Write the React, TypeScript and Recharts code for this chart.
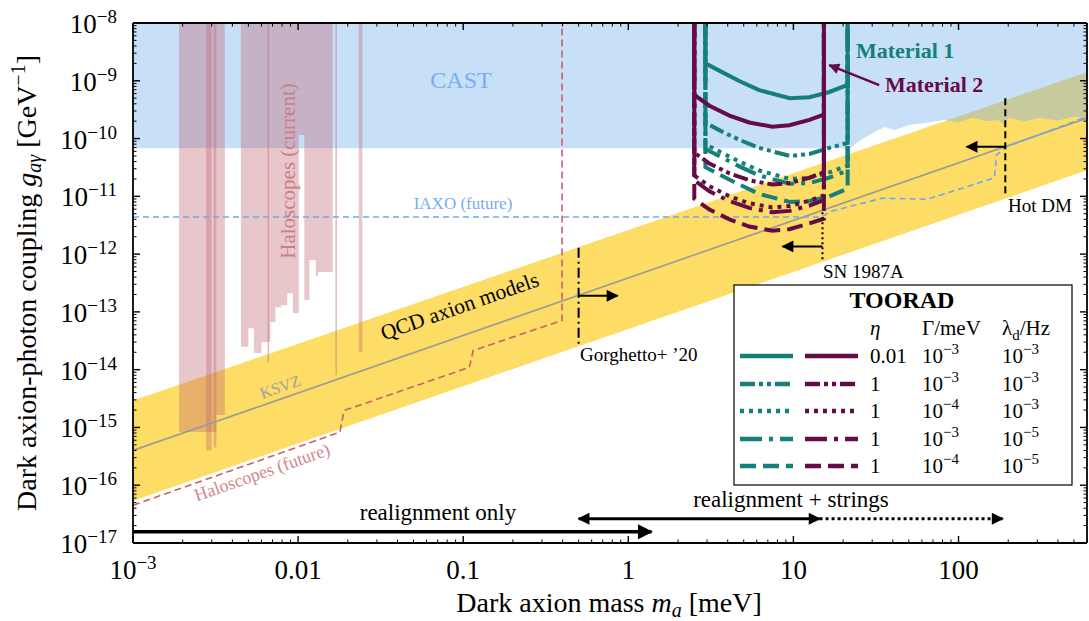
import React from "react";
import { ComposedChart, XAxis, YAxis, Area, Line } from "recharts";

const FONT = "'Liberation Serif', 'Times New Roman', serif";
const TEAL = "#15807a";
const PURPLE = "#650b45";
const TOP = 1e-8;

const X_DOMAIN = [1e-3, 600];
const Y_DOMAIN = [1e-17, 1e-8];

// tick labels
const X_MAJOR = [1e-3, 0.01, 0.1, 1, 10, 100];
const X_LABELS = ["10^−3", "0.01", "0.1", "1", "10", "100"];
const Y_MAJOR = [1e-17, 1e-16, 1e-15, 1e-14, 1e-13, 1e-12, 1e-11, 1e-10, 1e-9, 1e-8];
const Y_LABELS = ["10^−17", "10^−16", "10^−15", "10^−14", "10^−13", "10^−12", "10^−11", "10^−10", "10^−9", "10^−8"];

// QCD axion band and KSVZ line (mass meV -> coupling GeV^-1)
const BAND_MASS = [1e-3, 600];
const BAND_LOW = [5.4e-17, 2.83e-11];
const BAND_HIGH = [2.92e-15, 1.41e-9];
const KSVZ = [4.0e-16, 2.26e-10];

// CAST excluded region: [mass, lower edge]
const CAST_EDGE = [
  [1e-3, 6.8e-11], [21.9, 6.8e-11], [25.8, 9.5e-11], [31, 1.3e-10], [35.6, 1.59e-10],
  [41, 1.41e-10], [50.5, 1.72e-10], [62, 1.86e-10], [82, 2.1e-10], [100, 1.9e-10],
  [120, 2.3e-10], [150, 2.0e-10], [177, 2.1e-10], [190, 1.6e-10], [200, 2.3e-10],
  [250, 2.0e-10], [310, 2.27e-10], [400, 2.05e-10], [500, 2.4e-10], [600, 2.2e-10],
];

// Haloscopes (current): stepped lower edges
const HALO_A = [[1.9e-3, 8.3e-16], [3.2e-3, 1.65e-15], [3.6e-3, 1.65e-15]];
const HALO_A_CORE1 = [[2.77e-3, 4.0e-16], [2.99e-3, 4.0e-16]];
const HALO_A_CORE2 = [[3.08e-3, 4.5e-16], [3.2e-3, 4.5e-16]];
const HALO_B = [
  [4.5e-3, 2.5e-14], [5.0e-3, 5.2e-14], [5.4e-3, 1.95e-14], [6.0e-3, 3.0e-14], [6.8e-3, 6.7e-14],
  [7.3e-3, 1.2e-13], [7.9e-3, 1.3e-13], [8.6e-3, 2.1e-13], [9.3e-3, 9.6e-14], [0.0101, 1.15e-10],
  [0.0109, 1.6e-13], [0.0117, 7.9e-13], [0.0128, 4.2e-13], [0.0132, 4.9e-13], [0.0162, 4.9e-13],
];
const HALO_C = [[0.0233, 2.0e-14], [0.0245, 2.0e-14]];
const HALO_THIN = [[6.6e-3, 1.35e-14], [0.017, 8.1e-15]];

// Haloscopes (future) and IAXO (future)
const HALO_FUTURE = [
  [1e-3, 4.5e-17], [0.0179, 8.3e-16], [0.019, 1.96e-15], [0.109, 1.1e-14],
  [0.115, 2.15e-14], [0.397, 7.1e-14], [0.397, 1e-8],
];
const IAXO = [
  [1e-3, 4.4e-12], [15.0, 4.4e-12], [16.5, 5.4e-12], [34.6, 9.3e-12], [64.8, 8.9e-12],
  [165, 2.09e-11], [170, 5.2e-11], [195, 7.2e-11], [600, 2.37e-10],
];

// TOORAD sensitivity curves
const M1_MASS = [2.93, 3.55, 4.7, 6.2, 9.5, 12.5, 16.5, 21.3];
const M2_MASS = [2.51, 3.1, 4.1, 5.4, 7.45, 9.45, 12.5, 15.3];
const M1_CURVES = [
  [2.0e-9, 1.5e-9, 9.9e-10, 6.9e-10, 5.0e-10, 5.2e-10, 6.4e-10, 8.5e-10],
  [1.9e-10, 1.4e-10, 9.5e-11, 6.9e-11, 5.0e-11, 5.4e-11, 6.9e-11, 8.4e-11],
  [8.0e-11, 6.0e-11, 4.0e-11, 2.8e-11, 2.0e-11, 2.1e-11, 2.6e-11, 3.4e-11],
  [6.6e-11, 5.0e-11, 3.3e-11, 2.3e-11, 1.65e-11, 1.7e-11, 2.1e-11, 2.8e-11],
  [3.2e-11, 2.4e-11, 1.6e-11, 1.1e-11, 8.0e-12, 8.3e-12, 1.0e-11, 1.36e-11],
];
const M2_CURVES = [
  [5.7e-10, 3.7e-10, 2.5e-10, 1.9e-10, 1.6e-10, 1.7e-10, 2.1e-10, 2.6e-10],
  [5.7e-11, 3.7e-11, 2.5e-11, 1.9e-11, 1.6e-11, 1.7e-11, 2.1e-11, 2.6e-11],
  [2.3e-11, 1.5e-11, 1.0e-11, 7.6e-12, 6.4e-12, 6.8e-12, 8.4e-12, 1.04e-11],
  [1.9e-11, 1.22e-11, 8.3e-12, 6.3e-12, 5.3e-12, 5.6e-12, 6.9e-12, 8.6e-12],
  [9.1e-12, 5.9e-12, 4.0e-12, 3.0e-12, 2.55e-12, 2.7e-12, 3.4e-12, 4.1e-12],
];
const DASHES = [undefined, "15 4 4 4 4 4", "4 5", "22 7 4 7", "16 7"];
const ETA = ["0.01", "1", "1", "1", "1"];
const GAMMA = ["10^−3", "10^−3", "10^−4", "10^−3", "10^−4"];
const LAMBDA = ["10^−3", "10^−3", "10^−3", "10^−5", "10^−5"];

// annotations
const GORGHETTO_LINE = [[0.5, 1.29e-12], [0.5, 2.7e-14]];
const GORGHETTO_ARROW = [[0.5, 1.9e-13], [0.86, 1.9e-13]];
const SN_LINE = [[15.0, 5.3e-12], [15.0, 7.8e-13]];
const SN_ARROW = [[15.0, 1.36e-12], [8.6, 1.36e-12]];
const HOTDM_LINE = [[192, 5.0e-10], [192, 9.8e-12]];
const HOTDM_ARROW = [[192, 7.2e-11], [112, 7.2e-11]];
const REALIGN_ONLY = [[1e-3, 1.56e-17], [1.38, 1.56e-17]];
const REALIGN_STRINGS = [[0.5, 2.63e-17], [14.4, 2.63e-17]];
const REALIGN_DOTTED = [[14.4, 2.63e-17], [185, 2.63e-17]];
const MAT2_ARROW = [[33.1, 8.4e-10], [16.5, 1.87e-9]];

const decadeTicks = (from: number, to: number, max: number) => {
  const out: number[] = [];
  for (let e = from; e <= to; e++)
    for (let k = 1; k <= 9; k++) {
      const v = k * Math.pow(10, e);
      if (v <= max * 1.0001) out.push(v);
    }
  return out;
};
const X_TICKS = decadeTicks(-3, 2, 600);
const Y_TICKS = [...decadeTicks(-17, -9, 1), 1e-8];

const toRange = (pts: number[][]) => pts.map(([m, lo]) => ({ m, r: [lo, TOP] }));
const toLine = (pts: number[][]) => pts.map(([m, g]) => ({ m, g }));
const vline = ([m, g]: number[]) => [{ m, g: TOP }, { m, g }];
const curve = (mass: number[], vals: number[]) => [
  { m: mass[0], g: TOP },
  ...mass.map((m, i) => ({ m, g: vals[i] })),
  { m: mass[mass.length - 1], g: TOP },
];

const majorIndex = (v: number, majors: number[]) =>
  majors.findIndex((t) => Math.abs(Math.log10(v / t)) < 1e-6);

function SupText({ x, y, text, anchor, size = 27, sup = 19, dy = -10, ...rest }: any) {
  const [base, exp] = text.split("^");
  return (
    <text x={x} y={y} textAnchor={anchor} fontSize={size} fontFamily={FONT} fill="#000" {...rest}>
      {base}
      {exp && (
        <tspan dy={dy} fontSize={sup}>
          {exp}
        </tspan>
      )}
    </text>
  );
}

const axisTick = (side: string) => (props: any) => {
  const { x, y, payload } = props;
  const horiz = side === "bottom" || side === "top";
  const i = majorIndex(payload.value, horiz ? X_MAJOR : Y_MAJOR);
  const len = i >= 0 ? 7 : 3.5;
  let x2 = x;
  let y2 = y;
  if (side === "bottom") y2 = y - len;
  if (side === "top") y2 = y + len;
  if (side === "left") x2 = x + len;
  if (side === "right") x2 = x - len;
  let label = null;
  if (i >= 0 && side === "bottom") label = <SupText x={x} y={y + 36} text={X_LABELS[i]} anchor="middle" />;
  if (i >= 0 && side === "left") label = <SupText x={x - 16} y={y + 10} text={Y_LABELS[i]} anchor="end" />;
  return (
    <g>
      <line x1={x} y1={y} x2={x2} y2={y2} stroke="#000" strokeWidth={i >= 0 ? 1.4 : 1} />
      {label}
    </g>
  );
};

const haloFill = { fill: "#c0646e", fillOpacity: 0.36, stroke: "none" };

const line = (key: string, data: any[], stroke: string, width: number, extra: any = {}) => (
  <Line
    key={key}
    data={data}
    dataKey="g"
    stroke={stroke}
    strokeWidth={width}
    dot={false}
    activeDot={false}
    isAnimationActive={false}
    legendType="none"
    {...extra}
  />
);

function Legend() {
  const rows = [363, 391, 418, 446, 473];
  return (
    <g fontFamily={FONT}>
      <rect x={734} y={285} width={338} height={200} fill="#fff" stroke="#000" strokeWidth={1.2} />
      <text x={902} y={308} textAnchor="middle" fontSize={24} fontWeight="bold">
        TOORAD
      </text>
      <text x={870} y={335} fontSize={21} fontStyle="italic">
        η
      </text>
      <text x={922} y={335} fontSize={21}>
        Γ/meV
      </text>
      <text x={1002} y={335} fontSize={21}>
        λ<tspan fontSize={15} dy={5}>d</tspan>
        <tspan dy={-5}>/Hz</tspan>
      </text>
      {rows.map((yb, i) => (
        <g key={i}>
          <line x1={740} x2={793} y1={yb - 7} y2={yb - 7} stroke={TEAL} strokeWidth={4.5} strokeDasharray={DASHES[i]} />
          <line x1={805} x2={858} y1={yb - 7} y2={yb - 7} stroke={PURPLE} strokeWidth={4.5} strokeDasharray={DASHES[i]} />
          <text x={870} y={yb} fontSize={21}>
            {ETA[i]}
          </text>
          <SupText x={922} y={yb} text={GAMMA[i]} size={21} sup={15} dy={-9} />
          <SupText x={1002} y={yb} text={LAMBDA[i]} size={21} sup={15} dy={-9} />
        </g>
      ))}
    </g>
  );
}

export default function App() {
  return (
    <div style={{ position: "relative", width: 1089, height: 621, fontFamily: FONT }}>
      <style>{"body{margin:0}"}</style>
      <svg width={0} height={0} style={{ position: "absolute" }}>
        <defs>
          <marker id="headBig" viewBox="0 0 10 10" refX={9} refY={5} markerWidth={16} markerHeight={15} markerUnits="userSpaceOnUse" orient="auto-start-reverse">
            <path d="M0,0 L10,5 L0,10 Z" fill="#000" />
          </marker>
          <marker id="head" viewBox="0 0 10 10" refX={9} refY={5} markerWidth={15} markerHeight={12} markerUnits="userSpaceOnUse" orient="auto-start-reverse">
            <path d="M0,0 L10,5 L0,10 Z" fill="#000" />
          </marker>
          <marker id="headP" viewBox="0 0 10 10" refX={9} refY={5} markerWidth={15} markerHeight={11} markerUnits="userSpaceOnUse" orient="auto-start-reverse">
            <path d="M0,0 L10,5 L0,10 Z" fill={PURPLE} />
          </marker>
        </defs>
      </svg>
      <ComposedChart width={1089} height={621} margin={{ top: 22, right: 1, bottom: 38, left: 33 }}>
        <Area
          data={BAND_MASS.map((m, i) => ({ m, r: [BAND_LOW[i], BAND_HIGH[i]] }))}
          dataKey="r"
          type="linear"
          fill="#fddd66"
          fillOpacity={1}
          stroke="none"
          isAnimationActive={false}
        />
        <Area data={toRange(CAST_EDGE)} dataKey="r" type="linear" fill="#75aeed" fillOpacity={0.4} stroke="none" isAnimationActive={false} />
        <Area data={toRange(HALO_A)} dataKey="r" type="stepAfter" {...haloFill} isAnimationActive={false} />
        <Area data={toRange(HALO_A_CORE1)} dataKey="r" type="stepAfter" {...haloFill} isAnimationActive={false} />
        <Area data={toRange(HALO_A_CORE2)} dataKey="r" type="stepAfter" {...haloFill} isAnimationActive={false} />
        <Area data={toRange(HALO_B)} dataKey="r" type="stepAfter" {...haloFill} isAnimationActive={false} />
        <Area data={toRange(HALO_C)} dataKey="r" type="stepAfter" {...haloFill} isAnimationActive={false} />
        {HALO_THIN.map((p, i) => line(`thin${i}`, vline(p), "#c0646e", 1.5, { strokeOpacity: 0.45 }))}

        {line("ksvz", BAND_MASS.map((m, i) => ({ m, g: KSVZ[i] })), "#9a9a9a", 1.6)}
        {line("hfut", toLine(HALO_FUTURE), "#c8606b", 1.6, { strokeDasharray: "7 4" })}
        {line("iaxo", toLine(IAXO), "#6aaaf2", 1.6, { strokeDasharray: "6 4" })}

        {M1_CURVES.map((v, i) => line(`m1${i}`, curve(M1_MASS, v), TEAL, 4, { strokeDasharray: DASHES[i] }))}
        {M2_CURVES.map((v, i) => line(`m2${i}`, curve(M2_MASS, v), PURPLE, 4, { strokeDasharray: DASHES[i] }))}

        {line("gl", toLine(GORGHETTO_LINE), "#000", 2, { strokeDasharray: "10 4 2 4" })}
        {line("ga", toLine(GORGHETTO_ARROW), "#000", 2, { markerEnd: "url(#head)" })}
        {line("sl", toLine(SN_LINE), "#000", 2, { strokeDasharray: "2 3" })}
        {line("sa", toLine(SN_ARROW), "#000", 2, { markerEnd: "url(#head)" })}
        {line("hl", toLine(HOTDM_LINE), "#000", 2, { strokeDasharray: "7 4" })}
        {line("ha", toLine(HOTDM_ARROW), "#000", 2, { markerEnd: "url(#head)" })}
        {line("ro", toLine(REALIGN_ONLY), "#000", 3.5, { markerEnd: "url(#headBig)" })}
        {line("rs", toLine(REALIGN_STRINGS), "#000", 3, { markerEnd: "url(#head)", markerStart: "url(#head)" })}
        {line("rd", toLine(REALIGN_DOTTED), "#000", 3, { strokeDasharray: "3 3", markerEnd: "url(#head)" })}
        {line("m2a", toLine(MAT2_ARROW), PURPLE, 2.5, { markerEnd: "url(#headP)" })}

        <XAxis
          dataKey="m"
          type="number"
          scale="log"
          domain={X_DOMAIN}
          allowDataOverflow
          ticks={X_TICKS}
          interval={0}
          tick={axisTick("bottom")}
          tickLine={false}
          tickSize={0}
          tickMargin={0}
          height={40}
          axisLine={{ stroke: "#000", strokeWidth: 1.8 }}
        />
        <XAxis
          xAxisId="top"
          orientation="top"
          dataKey="m"
          type="number"
          scale="log"
          domain={X_DOMAIN}
          allowDataOverflow
          ticks={X_TICKS}
          interval={0}
          tick={axisTick("top")}
          tickLine={false}
          tickSize={0}
          tickMargin={0}
          height={1}
          axisLine={{ stroke: "#000", strokeWidth: 1.8 }}
        />
        <YAxis
          type="number"
          scale="log"
          domain={Y_DOMAIN}
          allowDataOverflow
          ticks={Y_TICKS}
          interval={0}
          tick={axisTick("left")}
          tickLine={false}
          tickSize={0}
          tickMargin={0}
          width={100}
          axisLine={{ stroke: "#000", strokeWidth: 1.8 }}
        />
        <YAxis
          yAxisId="right"
          orientation="right"
          type="number"
          scale="log"
          domain={Y_DOMAIN}
          allowDataOverflow
          ticks={Y_TICKS}
          interval={0}
          tick={axisTick("right")}
          tickLine={false}
          tickSize={0}
          tickMargin={0}
          width={1}
          axisLine={{ stroke: "#000", strokeWidth: 1.8 }}
        />
      </ComposedChart>
      <svg width={1089} height={621} style={{ position: "absolute", left: 0, top: 0, pointerEvents: "none" }} fontFamily={FONT}>
        <text x={461} y={88} textAnchor="middle" fontSize={24} fill="#78adf0">CAST</text>
        <text x={463} y={209} textAnchor="middle" fontSize={17} fill="#78adf0">IAXO (future)</text>
        <text transform="translate(295,171) rotate(-90)" textAnchor="middle" fontSize={21} fill="#cd7d85">Haloscopes (current)</text>
        <text transform="translate(462,313) rotate(-19.3)" textAnchor="middle" fontSize={21.5} fill="#000">QCD axion models</text>
        <text transform="translate(282,392) rotate(-19.3)" textAnchor="middle" fontSize={16} fill="#a0a0a0">KSVZ</text>
        <text transform="translate(264,478) rotate(-19.3)" textAnchor="middle" fontSize={18} fill="#d4868d">Haloscopes (future)</text>
        <text x={438} y={520} textAnchor="middle" fontSize={23}>realignment only</text>
        <text x={791} y={507} textAnchor="middle" fontSize={23}>realignment + strings</text>
        <text x={580} y={361} fontSize={19}>Gorghetto+ ’20</text>
        <text x={823} y={278} fontSize={19}>SN 1987A</text>
        <text x={1008} y={212} fontSize={19}>Hot DM</text>
        <text x={856} y={58} fontSize={22} fontWeight="bold" fill={TEAL}>Material 1</text>
        <text x={885} y={92} fontSize={22} fontWeight="bold" fill={PURPLE}>Material 2</text>
        <text x={609} y={612} textAnchor="middle" fontSize={28}>
          Dark axion mass <tspan fontStyle="italic">m</tspan>
          <tspan fontStyle="italic" fontSize={20} dy={5}>a</tspan>
          <tspan dy={-5}> [meV]</tspan>
        </text>
        <text transform="translate(36,283) rotate(-90)" textAnchor="middle" fontSize={28}>
          Dark axion-photon coupling <tspan fontStyle="italic">g</tspan>
          <tspan fontStyle="italic" fontSize={20} dy={5}>aγ</tspan>
          <tspan dy={-5}> [GeV</tspan>
          <tspan fontSize={20} dy={-11}>−1</tspan>
          <tspan dy={11}>]</tspan>
        </text>
        <Legend />
      </svg>
    </div>
  );
}
